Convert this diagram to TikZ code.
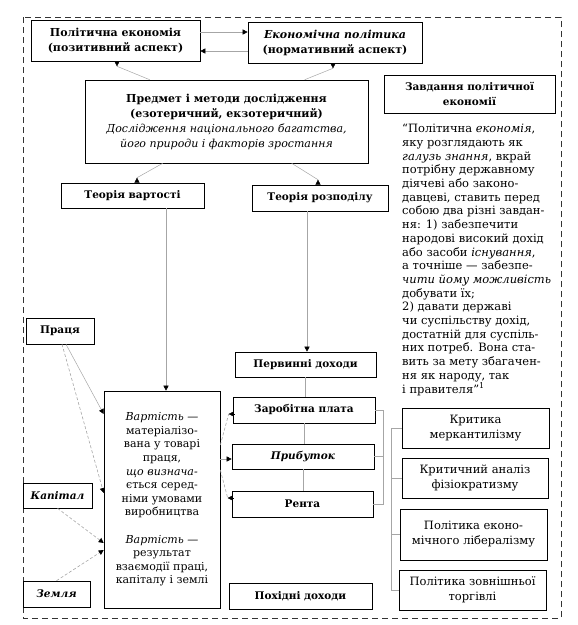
\documentclass[tikz,border=0pt]{standalone}
\usepackage{fontspec}
\setmainfont{DejaVu Serif}
\usetikzlibrary{arrows.meta,calc}
\begin{document}
\begin{tikzpicture}[x=1pt,y=-1pt,
  bx/.style={draw=black, line width=0.6pt, fill=white, inner sep=0pt, align=center},
  lbl/.style={font=\fontsize{10.5}{14.5}\selectfont\bfseries},
  tlbl/.style={font=\fontsize{11}{15}\selectfont\bfseries},
  rtx/.style={font=\fontsize{11.5}{15}\selectfont},
  gl/.style={draw=black!35, line width=0.5pt},
  gd/.style={draw=black!35, line width=0.6pt, dashed, dash pattern=on 3pt off 2pt},
  tp/.style={-{Triangle[length=5pt,width=5pt,color=black]}},
  tipst/.style={draw=black, line width=0.3pt, -{Triangle[length=5pt,width=5pt]}},
  frame/.style={draw=black!80, line width=0.9pt, dash pattern=on 6pt off 4pt}]
\useasboundingbox (0,0) rectangle (578,625);
\draw[frame] (23,17) rectangle (561,618);

% nodes
\node[bx,tlbl,minimum width=169pt,minimum height=41pt] (pe) at (115.5,40.5) {Політична економія\\(позитивний аспект)};
\node[bx,tlbl,minimum width=174pt,minimum height=41pt] (ep) at (335,42.5) {\textit{Економічна політика}\\(нормативний аспект)};
\node[bx,minimum width=283pt,minimum height=83pt,font=\fontsize{11}{15}\selectfont] (pm) at (226.5,121.5)
  {\textbf{Предмет і методи дослідження}\\\textbf{(езотеричний, екзотеричний)}\\\textit{Дослідження національного багатства,}\\\textit{його природи і факторів зростання}};
\node[bx,lbl,minimum width=171pt,minimum height=38pt] (zv) at (469.5,94) {Завдання політичної\\економії};
\node[anchor=north west, align=left, inner sep=0pt, font=\fontsize{11.5}{13.7}\selectfont] (qt) at (402,124)
  {“Політична \textit{економія},\\
яку розглядають як\\
\textit{галузь знання}, вкрай\\
потрібну державному\\
діячеві або законо-\\
давцеві, ставить перед\\
собою два різні завдан-\\
ня: 1) забезпечити\\
народові високий дохід\\
або засоби \textit{існування},\\
а точніше — забезпе-\\
\textit{чити йому можливість}\\
добувати їх;\\
2) давати державі\\
чи суспільству дохід,\\
достатній для суспіль-\\
них потреб. Вона ста-\\
вить за мету збагачен-\\
ня як народу, так\\
і правителя”\textsuperscript{1}};

\node[bx,lbl,minimum width=143pt,minimum height=25pt] (tv) at (132.5,195.5) {Теорія вартості};
\node[bx,lbl,minimum width=136pt,minimum height=26pt] (tr) at (320,198) {Теорія розподілу};
\node[bx,lbl,minimum width=68pt,minimum height=26pt] (pr) at (60,331) {Праця};
\node[bx,lbl,minimum width=141pt,minimum height=25pt] (pd) at (305.5,364.5) {Первинні доходи};
\node[bx,minimum width=116pt,minimum height=217pt,font=\fontsize{11}{13.6}\selectfont] (vb) at (162,499.5)
  {\textit{Вартість —}\\матеріалізо-\\вана у товарі\\праця,\\\textit{що визнача-}\\ється серед-\\німи умовами\\виробництва\\[13.6pt]\textit{Вартість —}\\результат\\взаємодії праці,\\капіталу і землі};
\node[bx,lbl,minimum width=142pt,minimum height=26pt] (zp) at (304,410) {Заробітна плата};
\node[bx,lbl,minimum width=142pt,minimum height=25pt] (pb) at (303,456.5) {\textit{Прибуток}};
\node[bx,lbl,minimum width=141pt,minimum height=26pt] (rn) at (302.5,504) {Рента};
\node[bx,lbl,minimum width=143pt,minimum height=26pt] (ph) at (300.5,596) {Похідні доходи};
\node[bx,lbl,minimum width=69pt,minimum height=25pt] (kp) at (57.5,495.5) {\textit{Капітал}};
\node[bx,lbl,minimum width=67pt,minimum height=26pt] (zm) at (56.5,594) {\textit{Земля}};
\node[bx,rtx,minimum width=147pt,minimum height=40pt] (r1) at (475.5,428) {Критика\\меркантилізму};
\node[bx,rtx,minimum width=146pt,minimum height=40pt] (r2) at (475,478) {Критичний аналіз\\фізіократизму};
\node[bx,rtx,minimum width=147pt,minimum height=51pt] (r3) at (473.5,534.5) {Політика еконо-\\мічного лібералізму};
\node[bx,rtx,minimum width=147pt,minimum height=40pt] (r4) at (472.5,590) {Політика зовнішньої\\торгівлі};

% top connectors
\draw[gl,tp] ($(pe.east)+(0,-8.5)$) -- ($(ep.west)+(0,-10.5)$);
\draw[gl,tp] ($(ep.west)+(0,8.5)$) -- ($(pe.east)+(0,10.5)$);
\draw[gl] ($(pm.north west)+(65,0)$) -- ($(pe.south)+(1.5,5)$);
\draw[tipst] ($(pe.south)+(1.5,0)$) -- ++(0,5);
\draw[gl] ($(pm.north west)+(220,0)$) -- ($(ep.south)+(-2,5)$);
\draw[tipst] ($(ep.south)+(-2,0)$) -- ++(0,5);
\draw[gl] ($(pm.south west)+(78,0)$) -- ($(tv.north)+(4.5,-5)$);
\draw[tipst] ($(tv.north)+(4.5,0)$) -- ++(0,-5);
\draw[gl] ($(pm.south west)+(207,0)$) -- ($(tr.north)+(-2,-5)$);
\draw[tipst] ($(tr.north)+(-2,0)$) -- ++(0,-5);

% vertical
\coordinate (tva) at ($(tv.south)+(33.5,0)$);
\draw[gl,tp] (tva) -- (tva |- vb.north);
\coordinate (tra) at ($(tr.south)+(-13,0)$);
\draw[gl,tp] (tra) -- (tra |- pd.north);
\draw[gl] (pd.south) -- (pd.south |- zp.north);
\draw[gl] (zp.south) -- (zp.south |- pb.north);
\draw[gl] (pb.south) -- (pb.south |- rn.north);

% brackets
\coordinate (mb) at ($(zp.east)+(8,0)$);
\draw[gl] (zp.east) -- (mb) |- (rn.east);
\draw[gl] (pb.east) -- (pb.east -| mb);
\coordinate (rb) at ($(r1.west)+(-10,0)$);
\draw[gl] (r1.west) -- (rb) |- (r4.west);
\draw[gl] (r2.west) -- (r2.west -| rb);
\draw[gl] (r3.west) -- (r3.west -| rb);

% left connectors
\draw[gl,tp] ($(pr.south)+(6,0)$) -- ($(vb.west)+(0,-85.5)$);
\draw[gd,tp] ($(pr.south)+(2,0)$) -- ($(vb.west)+(0,-6.5)$);
\draw[gd,tp] (kp.south) -- ($(vb.west)+(0,43.5)$);
\draw[gd,tp] (zm.north) -- ($(vb.west)+(0,50.5)$);

% middle connectors
\draw[gd] ($(vb.east)+(0,-54.5)$) -- ($(zp.west)+(-4,4)$);
\draw[tipst] ($(zp.west)+(1,4)$) -- ++(-5,0);
\draw[gl,tp] ($(vb.east)+(0,-40.5)$) -- ($(pb.west)+(0,2.5)$);
\draw[gd] ($(vb.east)+(0,-29.5)$) -- ($(rn.west)+(-4,-6)$);
\draw[tipst] ($(rn.west)+(1,-6)$) -- ++(-5,0);
\end{tikzpicture}
\end{document}
